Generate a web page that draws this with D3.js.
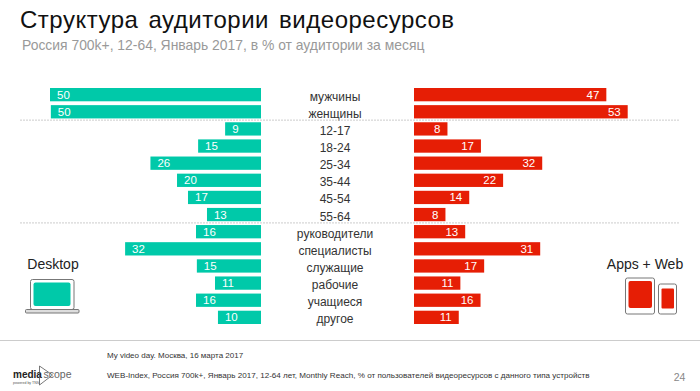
<!DOCTYPE html>
<html>
<head>
<meta charset="utf-8">
<script src="https://cdn.jsdelivr.net/npm/d3@7/dist/d3.min.js"></script>
<style>
  html, body { margin: 0; padding: 0; background: #fff; }
  text { font-family: "Liberation Sans", Arial, sans-serif; }
</style>
</head>
<body>
<div id="chart"></div>
<script>
var categories = ["мужчины", "женщины", "12-17", "18-24", "25-34", "35-44", "45-54", "55-64",
  "руководители", "специалисты", "служащие", "рабочие", "учащиеся", "другое"];
// printed labels
var desktop = [50, 50, 9, 15, 26, 20, 17, 13, 16, 32, 15, 11, 16, 10];
var apps = [47, 53, 8, 17, 32, 22, 14, 8, 13, 31, 17, 11, 16, 11];
// bar lengths, they don't follow the labels exactly
var desktopLen = [50, 49.8, 8.5, 14.9, 26.2, 19.9, 17.3, 12.8, 15.4, 32.2, 15.2, 10.9, 15.4, 10.2];
var appsLen = [47.7, 53, 8.3, 16.6, 31.8, 22.1, 13.7, 7.8, 12.7, 31.3, 17.4, 11.5, 16.5, 11.1];
var separatorsAfter = ["женщины", "55-64"];

var width = 700, height = 391;
var teal = "#00c9a9", red = "#e61e05";

var svg = d3.select("#chart").append("svg")
  .attr("width", width)
  .attr("height", height)
  .style("display", "block");

// rows
var y = d3.scaleBand().domain(categories).range([88, 324]).paddingInner(0.224).paddingOuter(0);
var xLeft = d3.scaleLinear().domain([0, 50]).range([261, 50]);
var xRight = d3.scaleLinear().domain([0, 53]).range([414, 627.7]);

// title
svg.append("text").attr("x", 20).attr("y", 28)
  .style("font-size", "24px").style("letter-spacing", "0.5px").style("word-spacing", "3px").style("fill", "#111")
  .text("Структура аудитории видеоресурсов");
svg.append("text").attr("x", 22).attr("y", 50)
  .style("font-size", "13.9px").style("fill", "#999")
  .text("Россия 700k+, 12-64, Январь 2017, в % от аудитории за месяц");

// left bars
svg.selectAll(".bar-left").data(desktopLen).enter().append("rect")
  .attr("class", "bar-left")
  .attr("x", function(d) { return xLeft(d); })
  .attr("y", function(d, i) { return y(categories[i]); })
  .attr("width", function(d) { return xLeft(0) - xLeft(d); })
  .attr("height", y.bandwidth())
  .style("fill", teal);

svg.selectAll(".label-left").data(desktop).enter().append("text")
  .attr("class", "label-left")
  .attr("x", function(d, i) { return xLeft(desktopLen[i]) + 7; })
  .attr("y", function(d, i) { return y(categories[i]) + y.bandwidth() / 2 + 4; })
  .style("font-size", "11.5px").style("fill", "#fff")
  .text(function(d) { return d; });

// right bars
svg.selectAll(".bar-right").data(appsLen).enter().append("rect")
  .attr("class", "bar-right")
  .attr("x", xRight(0))
  .attr("y", function(d, i) { return y(categories[i]); })
  .attr("width", function(d) { return xRight(d) - xRight(0); })
  .attr("height", y.bandwidth())
  .style("fill", red);

svg.selectAll(".label-right").data(apps).enter().append("text")
  .attr("class", "label-right")
  .attr("x", function(d, i) { return xRight(appsLen[i]) - 7; })
  .attr("y", function(d, i) { return y(categories[i]) + y.bandwidth() / 2 + 4; })
  .style("font-size", "11.5px").style("fill", "#fff").style("text-anchor", "end")
  .text(function(d) { return d; });

// category names
svg.selectAll(".cat").data(categories).enter().append("text")
  .attr("class", "cat")
  .attr("x", 335)
  .attr("y", function(d) { return y(d) + y.bandwidth() / 2 + 6; })
  .style("font-size", "12px").style("fill", "#333").style("text-anchor", "middle")
  .text(function(d) { return d; });

// group separators
separatorsAfter.forEach(function(c) {
  var yy = y(c) + y.bandwidth() + 1.7;
  svg.append("line").attr("x1", 20).attr("x2", 680).attr("y1", yy).attr("y2", yy)
    .style("stroke", "#ccc").style("stroke-width", 1).style("stroke-dasharray", "2 1");
});

// footer line
svg.append("line").attr("x1", 0).attr("x2", 700).attr("y1", 340.5).attr("y2", 340.5)
  .style("stroke", "#ccc").style("stroke-width", 1);

// side captions
svg.append("text").attr("x", 53).attr("y", 269)
  .style("font-size", "14px").style("fill", "#222").style("text-anchor", "middle").text("Desktop");
svg.append("text").attr("x", 645).attr("y", 269)
  .style("font-size", "14px").style("fill", "#222").style("text-anchor", "middle").text("Apps + Web");

// laptop icon
var laptop = svg.append("g");
laptop.append("rect").attr("x", 30.5).attr("y", 279.5).attr("width", 43.5).attr("height", 30).attr("rx", 2)
  .style("fill", "#fff").style("stroke", "#777");
laptop.append("rect").attr("x", 33.5).attr("y", 282.5).attr("width", 37).attr("height", 23.5).attr("rx", 2)
  .style("fill", teal);
laptop.append("rect").attr("x", 25.5).attr("y", 309.5).attr("width", 53.5).attr("height", 3.5).attr("rx", 1)
  .style("fill", "#ddd").style("stroke", "#777");

// tablet and phone icons
var devices = svg.append("g");
devices.append("rect").attr("x", 625.5).attr("y", 278).attr("width", 29).attr("height", 36).attr("rx", 2)
  .style("fill", "#fff").style("stroke", "#777");
devices.append("rect").attr("x", 628.5).attr("y", 281).attr("width", 23.5).attr("height", 27).attr("rx", 2)
  .style("fill", red);
devices.append("rect").attr("x", 658.5).attr("y", 284).attr("width", 18).attr("height", 30).attr("rx", 2)
  .style("fill", "#fff").style("stroke", "#777");
devices.append("rect").attr("x", 661.5).attr("y", 288.5).attr("width", 12.5).attr("height", 20).attr("rx", 1)
  .style("fill", red);

// footer text
svg.append("text").attr("x", 107).attr("y", 358)
  .style("font-size", "8px").style("fill", "#333").text("My video day. Москва, 16 марта 2017");
svg.append("text").attr("x", 107).attr("y", 377.5)
  .style("font-size", "8.08px").style("fill", "#333")
  .text("WEB-Index, Россия 700k+, Январь 2017, 12-64 лет, Monthly Reach, % от пользователей видеоресурсов с данного типа устройств");
svg.append("text").attr("x", 679.5).attr("y", 381)
  .style("font-size", "10.5px").style("fill", "#888").style("text-anchor", "middle").text("24");

// logo
svg.append("text").attr("x", 13).attr("y", 378)
  .style("font-size", "10px").style("font-weight", "bold").style("fill", "#222")
  .text("media");
svg.append("text").attr("x", 43.5).attr("y", 378)
  .style("font-size", "10.5px").style("fill", "#666").text("scope");
svg.append("text").attr("x", 13).attr("y", 383.5)
  .style("font-size", "3.5px").style("fill", "#555").text("powered by TNS");
svg.append("path").attr("d", "M39.5 366L52.5 375L39.5 385Z").style("fill", "none").style("stroke", "#555").style("stroke-width", 0.8);
</script>
</body>
</html>
